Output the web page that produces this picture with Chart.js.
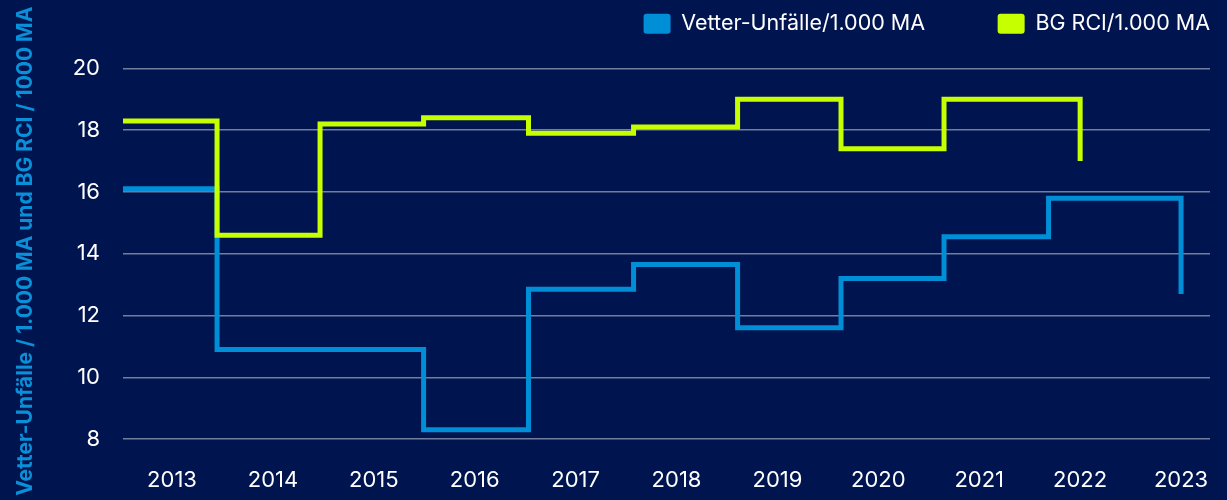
<!DOCTYPE html>
<html lang="de">
<head>
<meta charset="utf-8">
<title>Vetter-Unfälle und BG RCI</title>
<script src="https://cdn.jsdelivr.net/npm/chart.js@4.4.1/dist/chart.umd.min.js"></script>
<style>
    html, body {
        margin: 0;
        padding: 0;
        background: #00154f;
    }
    .chart-box {
        width: 1227px;
        height: 500px;
        position: relative;
    }
</style>
</head>
<body>
<div class="chart-box">
    <canvas id="unfallChart"></canvas>
</div>
<script>
// Chart data (x in years, steps begin where the yearly value changes)
const years = [2013, 2014, 2015, 2016, 2017, 2018, 2019, 2020, 2021, 2022, 2023];
const yTicks = [8, 10, 12, 14, 16, 18, 20];

const vetterX = [2012.514, 2013.446, 2014.467, 2015.493, 2016.533, 2017.574, 2018.605, 2019.630, 2020.651, 2021.687, 2023];
const vetterY = [16.1, 10.9, 10.9, 8.3, 12.85, 13.65, 11.6, 13.2, 14.55, 15.8, 12.7];

const bgX = [2012.514, 2013.446, 2014.467, 2015.493, 2016.533, 2017.574, 2018.605, 2019.630, 2020.651, 2022];
const bgY = [18.3, 14.6, 18.2, 18.4, 17.9, 18.1, 19.0, 17.4, 19.0, 17.0];

const BLUE = '#008ed6';
const GREEN = '#c6ff00';

Chart.defaults.font.family = 'Inter, "Open Sans", sans-serif';
Chart.defaults.color = '#ffffff';

function toPoints(xs, ys) {
    return xs.map((x, i) => ({ x: x, y: ys[i] }));
}

const ctx = document.getElementById('unfallChart').getContext('2d');

new Chart(ctx, {
    type: 'line',
    data: {
        datasets: [{
            label: 'Vetter-Unfälle/1.000 MA',
            data: toPoints(vetterX, vetterY),
            borderColor: BLUE,
            backgroundColor: BLUE,
            borderWidth: 5,
            stepped: true,
            pointRadius: 0,
            borderJoinStyle: 'miter',
            borderCapStyle: 'butt',
            order: 1
        }, {
            label: 'BG RCI/1.000 MA',
            data: toPoints(bgX, bgY),
            borderColor: GREEN,
            backgroundColor: GREEN,
            borderWidth: 5,
            stepped: true,
            pointRadius: 0,
            borderJoinStyle: 'miter',
            borderCapStyle: 'butt',
            order: 0
        }]
    },
    options: {
        responsive: true,
        maintainAspectRatio: false,
        animation: false,
        layout: {
            padding: { top: 13, right: 17, left: 0, bottom: 0 }
        },
        plugins: {
            tooltip: { enabled: false },
            legend: {
                position: 'top',
                align: 'end',
                labels: {
                    boxWidth: 27,
                    boxHeight: 20,
                    padding: 0,
                    useBorderRadius: true,
                    borderRadius: 3,
                    color: '#ffffff',
                    font: { size: 21.5 },
                    sort: (a, b) => a.datasetIndex - b.datasetIndex,
                    generateLabels: function(chart) {
                        const items = Chart.defaults.plugins.legend.labels.generateLabels(chart);
                        items.forEach(item => {
                            item.lineWidth = 0;
                            // gap to the next legend entry
                            if (item.datasetIndex === 0) {
                                item.text = item.text + '            ';
                            }
                        });
                        return items;
                    }
                }
            }
        },
        scales: {
            x: {
                type: 'linear',
                min: 2012.514,
                max: 2023.287,
                grid: { display: false },
                border: { display: false },
                afterFit: function(scale) {
                    scale.height = 42;
                },
                afterBuildTicks: function(scale) {
                    scale.ticks = years.map(v => ({ value: v }));
                },
                ticks: {
                    autoSkip: false,
                    maxRotation: 0,
                    padding: 1,
                    color: '#ffffff',
                    font: { size: 22 },
                    callback: function(value) {
                        return String(value);
                    }
                }
            },
            y: {
                min: 7.387,
                max: 20.774,
                grid: {
                    color: 'rgba(255, 255, 255, 0.45)',
                    lineWidth: 1.5,
                    drawTicks: false
                },
                border: { display: false },
                afterFit: function(scale) {
                    scale.width = 123;
                },
                afterBuildTicks: function(scale) {
                    scale.ticks = yTicks.map(v => ({ value: v }));
                },
                ticks: {
                    padding: 23,
                    color: '#ffffff',
                    font: { size: 22 }
                },
                title: {
                    display: true,
                    text: 'Vetter-Unfälle / 1.000 MA und BG RCI / 1000 MA',
                    color: '#0a90d8',
                    font: { size: 21, weight: 'bold' },
                    padding: { top: 13, bottom: 0 }
                }
            }
        }
    }
});
</script>
</body>
</html>
